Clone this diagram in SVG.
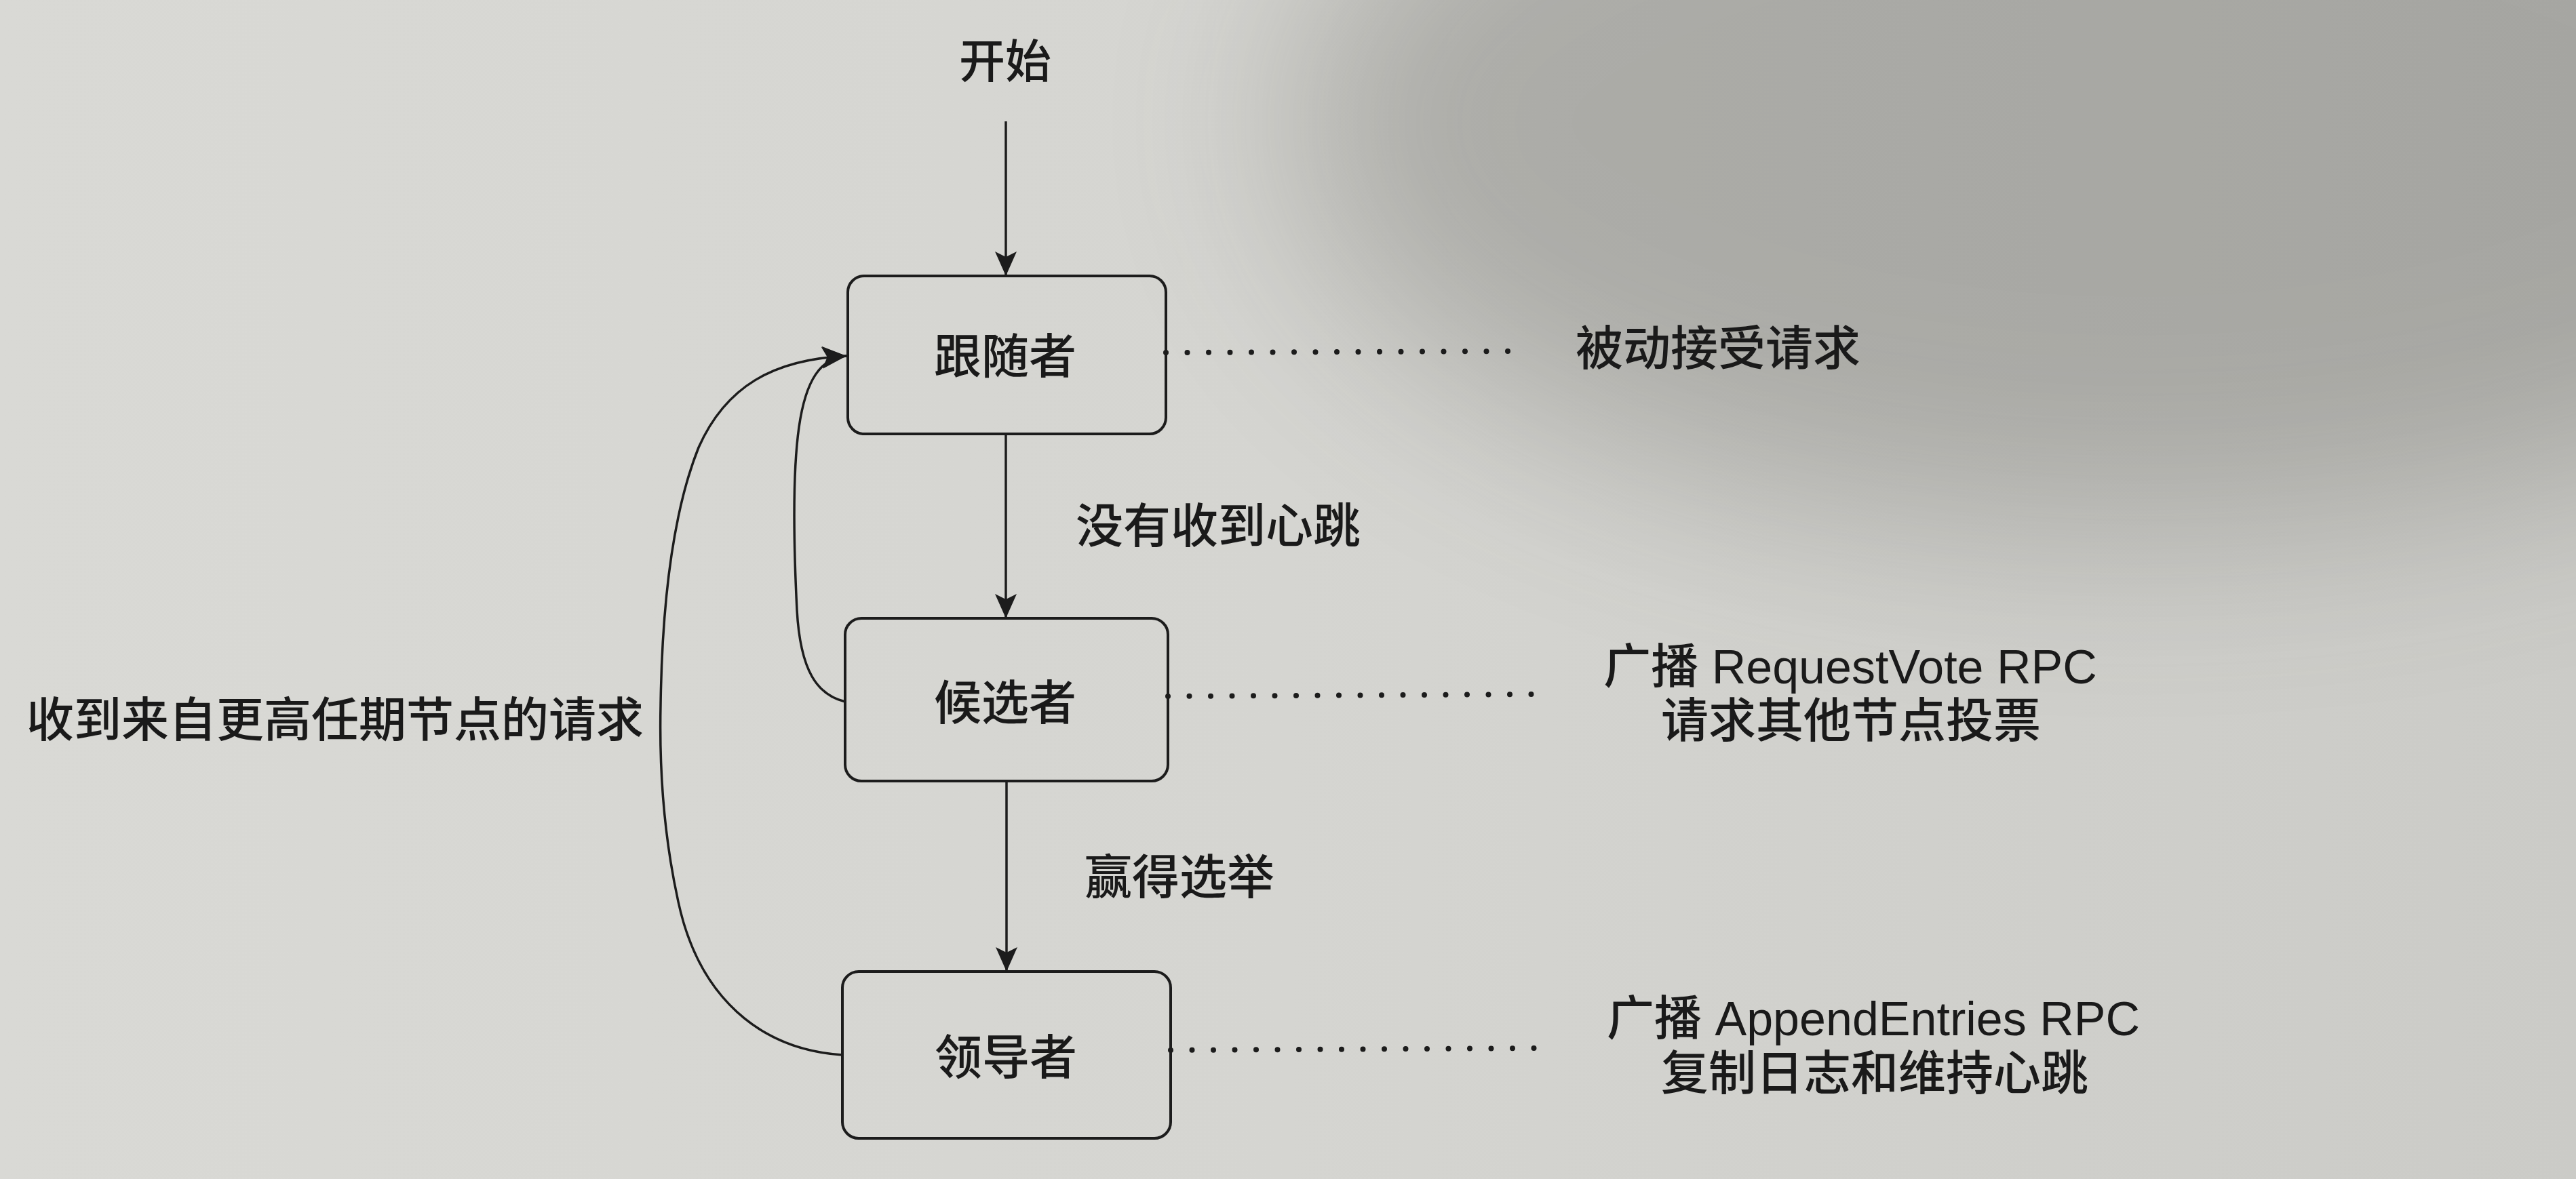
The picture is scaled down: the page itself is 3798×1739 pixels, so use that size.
<svg xmlns="http://www.w3.org/2000/svg" width="3798" height="1739" viewBox="0 0 3798 1739">
  <style>
    .box { fill: none; stroke: #1c1c1c; stroke-width: 4; }
    .edge { fill: none; stroke: #1c1c1c; stroke-width: 3.5; }
    .dots { fill: none; stroke: #1c1c1c; stroke-width: 8; stroke-linecap: round; stroke-dasharray: 0 31.5; }
    .t { font-family: "Liberation Sans", "Noto Sans CJK SC", sans-serif; font-size: 70px; fill: #1a1a1a; font-weight: 500; }
    .c { text-anchor: middle; }
  </style>
  <defs>
    <marker id="arrow" viewBox="0 0 36 32" refX="36" refY="16" markerWidth="36" markerHeight="32" markerUnits="userSpaceOnUse" orient="auto">
      <path d="M0,0 L36,16 L0,32 L8,16 z" fill="#1c1c1c"/>
    </marker>
    <linearGradient id="bgH" x1="0" y1="0" x2="1" y2="0">
      <stop offset="0" stop-color="#d9d9d5"/>
      <stop offset="0.5" stop-color="#d5d5d1"/>
      <stop offset="1" stop-color="#cbcbc7"/>
    </linearGradient>
    <filter id="soft" x="-50%" y="-50%" width="200%" height="200%">
      <feGaussianBlur stdDeviation="140"/>
    </filter>
  </defs>

  <rect x="0" y="0" width="3798" height="1739" fill="url(#bgH)"/>
  <ellipse cx="3150" cy="180" rx="1250" ry="600" fill="#3c3c38" opacity="0.26" filter="url(#soft)"/>

  <g id="connectors">
    <line class="edge" x1="1483" y1="179" x2="1483" y2="407" marker-end="url(#arrow)"/>
    <line class="edge" x1="1483" y1="640" x2="1483" y2="912" marker-end="url(#arrow)"/>
    <line class="edge" x1="1484" y1="1152" x2="1484" y2="1433" marker-end="url(#arrow)"/>
    <path class="edge" d="M1242,1556 C1120,1548 1030,1470 1000,1330 C978,1230 972,1130 974,1040 C976,900 990,760 1030,660 C1070,570 1140,530 1248,525" marker-end="url(#arrow)"/>
    <path class="edge" d="M1246,1035 C1205,1025 1180,990 1175,900 C1170,800 1168,700 1178,630 C1188,560 1210,528 1248,525" marker-end="url(#arrow)"/>
    <line class="dots" x1="1719" y1="520" x2="2254" y2="518"/>
    <line class="dots" x1="1722" y1="1027" x2="2266" y2="1024"/>
    <line class="dots" x1="1726" y1="1549" x2="2276" y2="1546"/>
  </g>

  <g id="start">
    <text class="t c" x="1482" y="115" style="font-size:68px">开始</text>
  </g>

  <g id="follower">
    <rect class="box" x="1250" y="407" width="469" height="233" rx="24"/>
    <text class="t c" x="1482" y="551">跟随者</text>
  </g>

  <g id="candidate">
    <rect class="box" x="1246" y="912" width="476" height="240" rx="24"/>
    <text class="t c" x="1482" y="1062">候选者</text>
  </g>

  <g id="leader">
    <rect class="box" x="1242" y="1433" width="484" height="246" rx="24"/>
    <text class="t c" x="1483" y="1585">领导者</text>
  </g>

  <g id="label-no-heartbeat">
    <text class="t" x="1586" y="801">没有收到心跳</text>
  </g>

  <g id="label-win">
    <text class="t" x="1599" y="1319">赢得选举</text>
  </g>

  <g id="label-higher-term">
    <text class="t c" x="494" y="1087">收到来自更高任期节点的请求</text>
  </g>

  <g id="note-follower">
    <text class="t c" x="2533" y="539">被动接受请求</text>
  </g>

  <g id="note-candidate">
    <text class="t c" x="2728" y="1008">广播 RequestVote RPC</text>
    <text class="t c" x="2729" y="1088">请求其他节点投票</text>
  </g>

  <g id="note-leader">
    <text class="t c" x="2762" y="1527">广播 AppendEntries RPC</text>
    <text class="t c" x="2764" y="1608">复制日志和维持心跳</text>
  </g>
</svg>
